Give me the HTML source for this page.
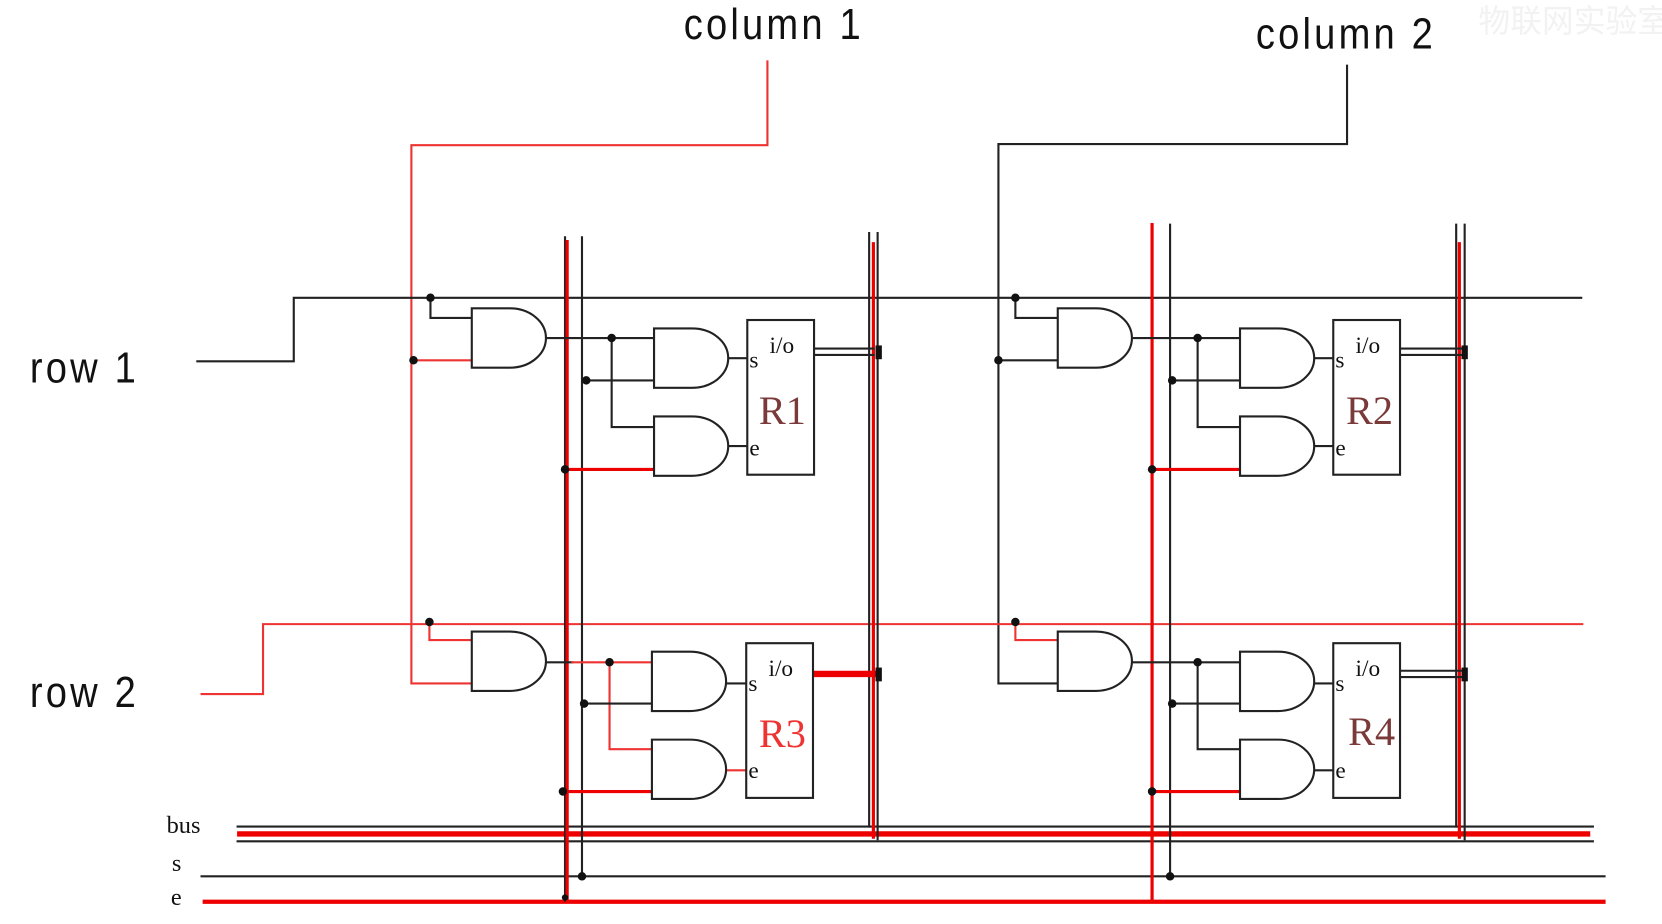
<!DOCTYPE html>
<html><head><meta charset="utf-8"><style>
html,body{margin:0;padding:0;background:#fff;width:1662px;height:924px;overflow:hidden}
svg{display:block}
.lbl{font-family:"Liberation Sans",sans-serif;font-size:36px;letter-spacing:3px;fill:#111}
.ser{font-family:"Liberation Serif",serif;fill:#111}
</style></head><body>
<svg width="1662" height="924" viewBox="0 0 1568 872" xmlns="http://www.w3.org/2000/svg">
<defs>
<path id="g" d="M0 0 H36 A34 28 0 0 1 36 56 H0 Z" fill="#fff" stroke="#222" stroke-width="2"/>
</defs>
<g fill="none" stroke-linecap="square">
<text x="645" y="36" class="lbl" transform="scale(1,1.15) translate(0,-4)">column 1</text>
<text x="1185" y="46" class="lbl" transform="scale(1,1.15) translate(0,-6)">column 2</text>
<text x="28" y="314" class="lbl" transform="scale(1,1.15)">row 1</text>
<text x="28" y="580" class="lbl" transform="scale(1,1.15)">row 2</text>
<text x="1395" y="30" font-family="Liberation Sans, Noto Sans CJK SC, sans-serif" font-size="30" fill="#f2f2f2" stroke="none">物联网实验室</text>
<text x="157" y="786" class="ser" font-size="23" stroke="none">bus</text>
<text x="162" y="822" class="ser" font-size="23" stroke="none">s</text>
<text x="161" y="854" class="ser" font-size="23" stroke="none">e</text>

<polyline points="724,58 724,137 388,137 388,645 445,645" stroke="#e33" stroke-width="2"/>
<line x1="390" y1="340" x2="445" y2="340" stroke="#e33" stroke-width="2"/>
<polyline points="1271,62 1271,136 942,136 942,645 998,645" stroke="#222" stroke-width="2"/>
<line x1="942" y1="340" x2="998" y2="340" stroke="#222" stroke-width="2"/>
<polyline points="186,341 277,341 277,281 1492,281" stroke="#222" stroke-width="2"/>
<polyline points="406,281 406,300 445,300" stroke="#222" stroke-width="2"/>
<polyline points="958,281 958,300 998,300" stroke="#222" stroke-width="2"/>
<polyline points="190,655 248,655 248,589 1493,589" stroke="#e33" stroke-width="2"/>
<polyline points="405,587 405,604 445,604" stroke="#e33" stroke-width="2"/>
<polyline points="958,587 958,604 998,604" stroke="#e33" stroke-width="2"/>

<line x1="224" y1="780" x2="1503" y2="780" stroke="#222" stroke-width="2"/>
<line x1="226" y1="787" x2="1498" y2="787" stroke="#e00" stroke-width="5"/>
<line x1="224" y1="794" x2="1503" y2="794" stroke="#222" stroke-width="2"/>
<line x1="190" y1="827" x2="1514" y2="827" stroke="#222" stroke-width="2"/>
<line x1="193" y1="851" x2="1513" y2="851" stroke="#e00" stroke-width="4"/>

<line x1="533" y1="224" x2="533" y2="850" stroke="#222" stroke-width="2"/>
<line x1="549" y1="224" x2="549" y2="827" stroke="#222" stroke-width="2"/>
<line x1="535" y1="228" x2="535" y2="850" stroke="#e00" stroke-width="3"/>
<line x1="820" y1="220" x2="820" y2="780" stroke="#222" stroke-width="2"/>
<line x1="828" y1="220" x2="828" y2="792" stroke="#222" stroke-width="2"/>
<line x1="824" y1="230" x2="824" y2="790" stroke="#e00" stroke-width="3"/>
<line x1="1087" y1="212" x2="1087" y2="850" stroke="#e00" stroke-width="3"/>
<line x1="1104" y1="212" x2="1104" y2="827" stroke="#222" stroke-width="2"/>
<line x1="1374" y1="212" x2="1374" y2="780" stroke="#222" stroke-width="2"/>
<line x1="1382" y1="212" x2="1382" y2="792" stroke="#222" stroke-width="2"/>
<line x1="1377" y1="230" x2="1377" y2="790" stroke="#e00" stroke-width="3"/>

<line x1="515" y1="319" x2="617" y2="319" stroke="#222" stroke-width="2"/>
<polyline points="577,319 577,403 617,403" stroke="#222" stroke-width="2"/>
<line x1="553" y1="359" x2="617" y2="359" stroke="#222" stroke-width="2"/>
<line x1="533" y1="443" x2="617" y2="443" stroke="#e00" stroke-width="3"/>
<line x1="686" y1="338" x2="705" y2="338" stroke="#222" stroke-width="2"/>
<line x1="686" y1="421" x2="705" y2="421" stroke="#222" stroke-width="2"/>
<line x1="768" y1="329" x2="824" y2="329" stroke="#222" stroke-width="2"/>
<line x1="768" y1="335" x2="824" y2="335" stroke="#222" stroke-width="2"/>
<line x1="513" y1="625" x2="540" y2="625" stroke="#222" stroke-width="2"/>
<line x1="540" y1="625" x2="615" y2="625" stroke="#e33" stroke-width="2"/>
<polyline points="575,625 575,707 615,707" stroke="#e33" stroke-width="2"/>
<line x1="551" y1="664" x2="615" y2="664" stroke="#222" stroke-width="2"/>
<line x1="533" y1="747" x2="615" y2="747" stroke="#e00" stroke-width="3"/>
<line x1="684" y1="645" x2="704" y2="645" stroke="#222" stroke-width="2"/>
<line x1="684" y1="727" x2="704" y2="727" stroke="#e33" stroke-width="2"/>
<line x1="770" y1="636" x2="826" y2="636" stroke="#e00" stroke-width="6"/>
<line x1="1068" y1="319" x2="1170" y2="319" stroke="#222" stroke-width="2"/>
<polyline points="1130,319 1130,403 1170,403" stroke="#222" stroke-width="2"/>
<line x1="1106" y1="359" x2="1170" y2="359" stroke="#222" stroke-width="2"/>
<line x1="1087" y1="443" x2="1170" y2="443" stroke="#e00" stroke-width="3"/>
<line x1="1239" y1="338" x2="1258" y2="338" stroke="#222" stroke-width="2"/>
<line x1="1239" y1="421" x2="1258" y2="421" stroke="#222" stroke-width="2"/>
<line x1="1321" y1="329" x2="1378" y2="329" stroke="#222" stroke-width="2"/>
<line x1="1321" y1="335" x2="1378" y2="335" stroke="#222" stroke-width="2"/>
<line x1="1068" y1="625" x2="1170" y2="625" stroke="#222" stroke-width="2"/>
<polyline points="1130,625 1130,707 1170,707" stroke="#222" stroke-width="2"/>
<line x1="1106" y1="664" x2="1170" y2="664" stroke="#222" stroke-width="2"/>
<line x1="1087" y1="747" x2="1170" y2="747" stroke="#e00" stroke-width="3"/>
<line x1="1239" y1="645" x2="1258" y2="645" stroke="#222" stroke-width="2"/>
<line x1="1239" y1="727" x2="1258" y2="727" stroke="#222" stroke-width="2"/>
<line x1="1321" y1="633" x2="1378" y2="633" stroke="#222" stroke-width="2"/>
<line x1="1321" y1="639" x2="1378" y2="639" stroke="#222" stroke-width="2"/>
</g>

<use href="#g" x="445" y="291"/><use href="#g" x="617" y="310"/><use href="#g" x="617" y="393"/>
<use href="#g" x="445" y="596"/><use href="#g" x="615" y="615"/><use href="#g" x="615" y="698"/>
<use href="#g" x="998" y="291"/><use href="#g" x="1170" y="310"/><use href="#g" x="1170" y="393"/>
<use href="#g" x="998" y="596"/><use href="#g" x="1170" y="615"/><use href="#g" x="1170" y="698"/>

<g fill="#fff" stroke="#222" stroke-width="2">
<rect x="705" y="302" width="63" height="146"/>
<rect x="704" y="607" width="63" height="146"/>
<rect x="1258" y="302" width="63" height="146"/>
<rect x="1258" y="607" width="63" height="146"/>
</g>
<g class="ser" font-size="22">
<text x="707" y="347">s</text><text x="726" y="333">i/o</text><text x="707" y="430">e</text>
<text x="706" y="652">s</text><text x="725" y="638">i/o</text><text x="706" y="734">e</text>
<text x="1260" y="347">s</text><text x="1279" y="333">i/o</text><text x="1260" y="430">e</text>
<text x="1260" y="652">s</text><text x="1279" y="638">i/o</text><text x="1260" y="734">e</text>
</g>
<g font-family="Liberation Serif,serif" font-size="38">
<text x="716" y="400" fill="#7a3a3a">R1</text>
<text x="716" y="705" fill="#e33">R3</text>
<text x="1270" y="400" fill="#7a3a3a">R2</text>
<text x="1272" y="703" fill="#7a3a3a">R4</text>
</g>

<g fill="#111">
<circle cx="406" cy="281" r="4"/><circle cx="390" cy="340" r="4"/><circle cx="405" cy="587" r="4"/>
<circle cx="958" cy="281" r="4"/><circle cx="942" cy="340" r="4"/><circle cx="958" cy="587" r="4"/>
<circle cx="577" cy="319" r="4"/><circle cx="553" cy="359" r="4"/><circle cx="533" cy="443" r="4"/>
<circle cx="575" cy="625" r="4"/><circle cx="551" cy="664" r="4"/><circle cx="531" cy="747" r="4"/>
<circle cx="1130" cy="319" r="4"/><circle cx="1106" cy="359" r="4"/><circle cx="1087" cy="443" r="4"/>
<circle cx="1130" cy="625" r="4"/><circle cx="1106" cy="664" r="4"/><circle cx="1087" cy="747" r="4"/>
<circle cx="549" cy="827" r="4"/><circle cx="1104" cy="827" r="4"/><circle cx="533" cy="847" r="3"/>
<rect x="826" y="326" width="6" height="13"/><rect x="826" y="630" width="6" height="13"/>
<rect x="1379" y="326" width="6" height="13"/><rect x="1379" y="630" width="6" height="13"/>
</g>
</svg>
</body></html>
